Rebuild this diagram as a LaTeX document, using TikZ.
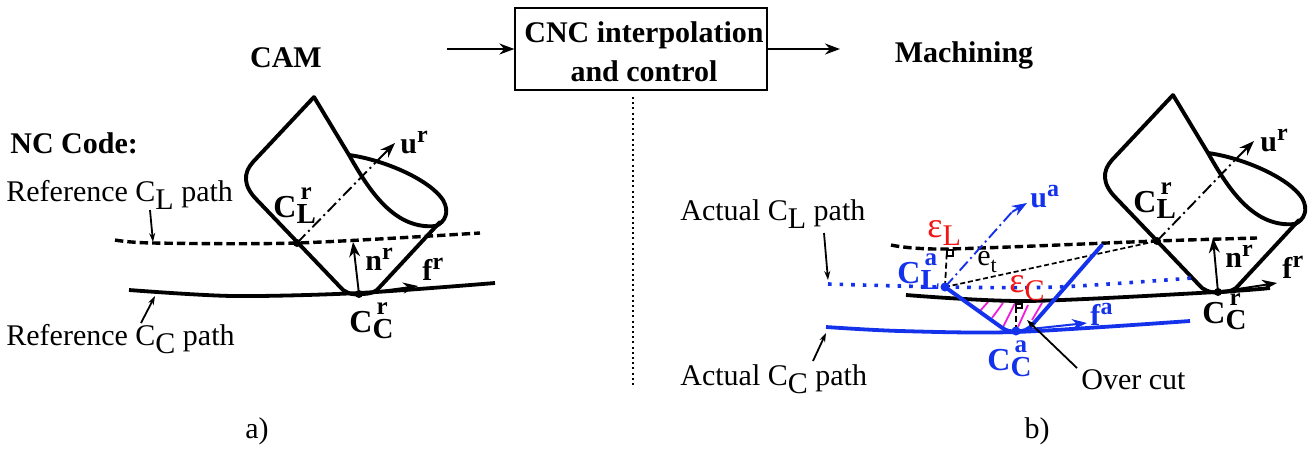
\documentclass[tikz,border=0pt]{standalone}
\usepackage{fontspec}
\setmainfont{Liberation Serif}
\usetikzlibrary{arrows.meta}
\definecolor{cblue}{RGB}{20,50,235}
\definecolor{cmag}{RGB}{240,30,220}
\definecolor{cred}{RGB}{240,20,20}
\newcommand\lab[3]{{\fontsize{16}{17}\selectfont\textbf{#1}}\rlap{\hspace{.14em}\raisebox{.6em}{\fontsize{12.5}{13}\selectfont\textbf{#2}}}\raisebox{-.2em}{\fontsize{14.5}{15}\selectfont\textbf{#3}}}
\newcommand\labsup[2]{\textbf{#1}\raisebox{.36em}{\fontsize{12}{13}\selectfont\textbf{#2}}}
\newcommand\toolshape[1]{%
  \draw[toolline,#1] (314,97) -- (349,155) .. controls (370,192) and (395,230) .. (436,226);
  \draw[toolline,#1] (349,155) .. controls (385,160) and (430,180) .. (443,200) .. controls (450,212) and (445,222) .. (436,226);
  \draw[toolline,#1,line join=round] (314,97) -- (253,162) .. controls (243,173) and (243,186) .. (257,200) -- (343,290) .. controls (349,294) and (354,295) .. (359,294) .. controls (365,294) and (372,294) .. (377,290) -- (440,222);
}
\tikzset{
  toolline/.style={line width=1.95pt,line cap=round},
  thickpath/.style={line width=1.9pt},
  dashpath/.style={line width=1.7pt,dash pattern=on 4.2pt off 2pt},
  dotpath/.style={line width=1.8pt,cblue,dash pattern=on 1.8pt off 4pt},
  axisline/.style={line width=.95pt,dash pattern=on 6pt off 2pt on 1pt off 2pt},
  thinarrow/.style={line width=.95pt,-{Stealth[length=7.5pt,width=5.5pt]}},
  lead/.style={line width=.9pt,-{Stealth[length=4.5pt,width=3pt]}},
  txt/.style={font=\fontsize{15}{17}\selectfont,inner sep=0pt},
  btxt/.style={font=\fontsize{15}{17}\selectfont\bfseries,inner sep=0pt},
  blab/.style={btxt,anchor=base west},
  sym/.style={font=\fontsize{18}{20}\selectfont,inner sep=0pt},
  hatch/.style={cmag,line width=.9pt},
  dot/.style={circle,fill,inner sep=0pt,minimum size=4.5pt},
}
\begin{document}
\begin{tikzpicture}[x=.5pt,y=-.5pt]
\useasboundingbox (0,0) rectangle (1314,450);
% top
\node[draw,line width=.6pt,minimum width=126pt,minimum height=41pt,inner sep=0pt,align=center] (box) at (641,49) {};
\node[btxt,align=center,font=\fontsize{15}{19.3}\selectfont\bfseries] (boxtext) at (644,52) {CNC interpolation\\and control};
\coordinate (inA) at (447,49);
\coordinate (outA) at (840,49);
\draw[thinarrow] (inA) -- (box);
\draw[thinarrow] (box) -- (outA);
\node[btxt] (cam) at (286,58) {CAM};
\node[btxt] (mach) at (964,55) {Machining};
\coordinate (sepA) at (633,97);
\coordinate (sepB) at (633,388);
\draw[line width=.6pt,dash pattern=on 1pt off 1.6pt] (sepA) -- (sepB);
\node[txt] (capa) at (257,431) {a)};
\node[txt] (capb) at (1037,431) {b)};
% LEFT
\node[btxt,anchor=west] (nc) at (10,143) {NC Code:};
\node[txt,anchor=west] (rcl) at (6,195) {Reference C\raisebox{-.25em}{L} path};
\node[txt,anchor=west] (rcc) at (6,339) {Reference C\raisebox{-.25em}{C} path};
\toolshape{}
\coordinate (CLr) at (297,243);
\coordinate (CCr) at (359,294);
\coordinate (urt) at (395,143);
\coordinate (nrt) at (353,242);
\coordinate (frt) at (418,286);
\draw[dashpath] plot[smooth] coordinates {(115,240) (153,243) (297,243) (480,233)};
\draw[thickpath] plot[smooth] coordinates {(129,290) (233,296) (359,293) (495,283)};
\node[dot,minimum size=4pt] at (CLr) {};
\node[dot,minimum size=4pt] at (CCr) {};
\draw[axisline] (CLr) -- (378,160);
\draw[thinarrow] (378,160) -- (urt);
\draw[thinarrow] (CCr) -- (nrt);
\draw[thinarrow] (CCr) -- (frt);
\coordinate (l1a) at (150,210); \coordinate (l1b) at (153,242);
\coordinate (l2a) at (141,323); \coordinate (l2b) at (155,296);
\draw[lead] (l1a) -- (l1b);
\draw[lead] (l2a) -- (l2b);
\node[blab] (ur) at (400,153) {\labsup{u}{r}};
\node[blab] (nr) at (365,270) {\labsup{n}{r}};
\node[blab] (fr) at (422,280) {\labsup{f}{r}};
\node[blab] (clr) at (273,217) {\lab{C}{r}{L}};
\node[blab] (ccr) at (349,332) {\lab{C}{r}{C}};
% RIGHT
\node[txt,anchor=west] (acl) at (680,214) {Actual C\raisebox{-.25em}{L} path};
\node[txt,anchor=west] (acc) at (680,379) {Actual C\raisebox{-.25em}{C} path};
\begin{scope}[shift={(859,-2)}]
\toolshape{}
\end{scope}
\coordinate (CLrb) at (1157,241);
\coordinate (CCrb) at (1218,292);
\coordinate (urbt) at (1254,141);
\coordinate (nrbt) at (1213,238);
\coordinate (frbt) at (1277,283);
\coordinate (CLa) at (945,287);
\coordinate (CCa) at (1016,331);
\coordinate (uat) at (1027,203);
\coordinate (fat) at (1087,323);
\coordinate (eLt) at (947,249);
\coordinate (eCt) at (1016,304);
% hatch
\draw[hatch] (988,302) -- (980,311);
\draw[hatch] (1003,303) -- (992,318);
\draw[hatch] (1015,303) -- (1003,327);
\draw[hatch] (1028,305) -- (1018,327);
\draw[hatch] (1042,303) -- (1032,320);
% reference in b
\draw[dashpath] plot[smooth] coordinates {(891,245) (947,249) (1157,241) (1257,238)};
\draw[thickpath] plot[smooth] coordinates {(906,295) (1027,301) (1217,292) (1270,288)};
\node[dot,minimum size=4pt] at (CLrb) {};
\node[dot,minimum size=4pt] at (CCrb) {};
\draw[axisline] (CLrb) -- (1237,158);
\draw[thinarrow] (1237,158) -- (urbt);
\draw[thinarrow] (CCrb) -- (nrbt);
\draw[thinarrow] (CCrb) -- (frbt);
% actual paths
\draw[dotpath] plot[smooth] coordinates {(828,284) (945,287) (1057,287) (1193,278)};
\draw[thickpath,cblue] plot[smooth] coordinates {(826,327) (900,331) (1016,332) (1190,321)};
% dashed construction
\draw[line width=.85pt,dash pattern=on 2.5pt off 1.4pt] (CLa) -- (CLrb);
\draw[line width=.9pt,dash pattern=on 3pt off 1.6pt] (CLa) -- (eLt);
\draw[line width=.9pt,dash pattern=on 3pt off 1.6pt] (CCa) -- (eCt);
\draw[line width=.7pt] (947,250) rectangle (953,256);
\draw[line width=.7pt] (1016,304) rectangle (1022,308);
% blue tool
\draw[toolline,cblue,line join=round] (CLa) -- (1001,327) .. controls (1006,331) and (1011,332) .. (CCa) .. controls (1023,332) and (1028,330) .. (1033,324) -- (1102,245);
\node[dot,cblue] at (CLa) {};
\node[dot,cblue] at (CCa) {};
\draw[axisline,cblue] (CLa) -- (1012,212);
\draw[thinarrow,cblue] (1012,212) -- (uat);
\draw[line width=1pt,cblue,-{Stealth[length=7.5pt,width=5.5pt]}] (1030,329) -- (fat);
% leaders
\coordinate (l3a) at (824,233); \coordinate (l3b) at (828,280);
\coordinate (l4a) at (813,361); \coordinate (l4b) at (826,333);
\draw[lead] (l3a) -- (l3b);
\draw[lead] (l4a) -- (l4b);
\node[txt,anchor=west] (oc) at (1081,380) {Over cut};
\coordinate (l5a) at (1077,368); \coordinate (l5b) at (1027,320);
\draw[lead] (l5a) -- (l5b);
% labels
\node[blab,text=cblue] (ua) at (1030,207) {\labsup{u}{a}};
\node[blab,text=cblue] (fa) at (1090,325) {\labsup{f}{a}};
\node[blab,text=cblue] (cla) at (897,283) {\lab{C}{a}{L}};
\node[blab,text=cblue] (cca) at (987,370) {\lab{C}{a}{C}};
\node[blab] (clrb) at (1133,212) {\lab{C}{r}{L}};
\node[blab] (ccrb) at (1202,323) {\lab{C}{r}{C}};
\node[blab] (urb) at (1260,151) {\labsup{u}{r}};
\node[blab] (nrb) at (1225,267) {\labsup{n}{r}};
\node[blab] (frb) at (1282,278) {\labsup{f}{r}};
\node[txt,anchor=west] (et) at (977,262) {e\raisebox{-.25em}{\fontsize{11}{12}\selectfont t}};
\node[sym,anchor=west,text=cred] (el) at (927,233) {ε\raisebox{-.22em}{\fontsize{15}{16}\selectfont L}};
\node[sym,anchor=west,text=cred] (ec) at (1009,288) {ε\raisebox{-.22em}{\fontsize{15}{16}\selectfont C}};
\end{tikzpicture}
\end{document}
